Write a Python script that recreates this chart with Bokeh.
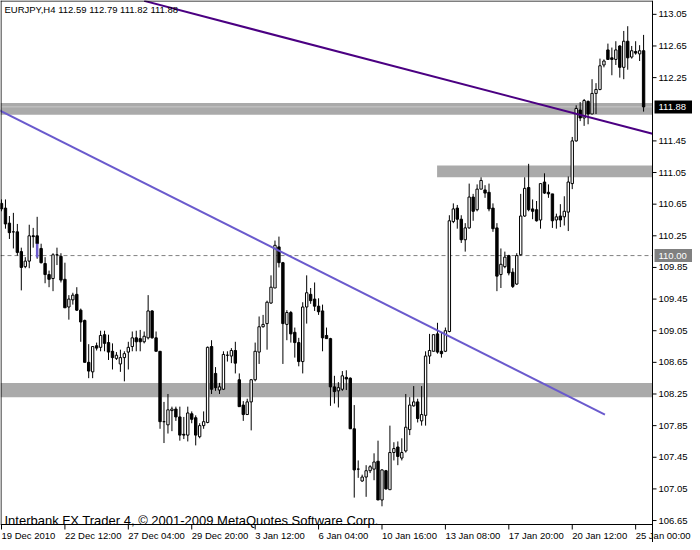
from bokeh.plotting import figure
from bokeh.models import Range1d, Label, ColumnDataSource
from bokeh.embed import file_html
from bokeh.resources import INLINE
from bokeh.core.properties import value

symbol = "EURJPY,H4"

opens = [110.66, 110.60, 110.41, 110.30, 110.30, 110.05, 109.86, 109.93, 110.25, 110.25,
         110.09, 109.90, 109.76, 109.71, 110.01, 109.99, 109.70, 109.35, 109.44, 109.51,
         109.31, 109.18, 108.65, 108.53, 108.86, 108.84, 109.00, 108.90, 108.79, 108.70,
         108.63, 108.71, 108.78, 108.85, 108.96, 108.95, 108.91, 108.96, 109.30, 108.96,
         108.79, 107.90, 107.86, 108.04, 108.06, 107.96, 107.74, 107.73, 108.00, 107.95,
         107.71, 107.85, 107.89, 108.85, 108.51, 108.30, 108.31, 108.74, 108.73, 108.80,
         108.43, 108.11, 107.99, 108.15, 108.43, 108.78, 109.10, 109.14, 109.40, 109.59,
         110.11, 109.91, 109.13, 109.28, 109.03, 108.90, 108.66, 109.35, 109.51, 109.45,
         109.36, 109.30, 108.99, 108.95, 108.34, 108.29, 108.31, 108.46, 108.45, 107.81,
         107.30, 107.15, 107.20, 107.28, 107.30, 107.40, 106.91, 107.28, 107.04, 107.51,
         107.58, 107.44, 107.53, 107.80, 108.10, 108.15, 107.91, 107.98, 108.73, 108.79,
         109.01, 108.79, 108.79, 109.04, 110.43, 110.60, 110.46, 110.20, 110.35, 110.74,
         110.58, 110.84, 110.83, 110.80, 110.60, 110.35, 109.76, 109.86, 110.00, 109.79,
         109.64, 110.01, 110.50, 110.86, 110.59, 110.58, 110.45, 110.93, 110.80, 110.78,
         110.45, 110.50, 110.49, 110.55, 110.91, 111.45, 111.84, 111.74, 111.95, 111.79,
         112.05, 112.10, 112.41, 112.60, 112.50, 112.48, 112.65, 112.38, 112.71, 112.51,
         112.58, 112.55, 112.59]

highs = [110.71, 110.71, 110.50, 110.54, 110.40, 110.10, 109.98, 110.39, 110.35, 110.49,
         110.15, 109.98, 109.81, 110.03, 110.10, 110.03, 109.91, 109.50, 109.53, 109.60,
         109.33, 109.19, 108.88, 108.85, 108.90, 109.05, 109.05, 109.00, 108.89, 108.78,
         108.81, 108.79, 108.91, 109.04, 109.05, 109.06, 109.04, 109.50, 109.31, 109.04,
         108.79, 108.15, 108.25, 108.09, 108.09, 108.09, 107.96, 108.09, 108.03, 107.98,
         107.88, 108.03, 108.85, 108.93, 108.59, 108.39, 108.79, 108.79, 108.83, 108.91,
         108.51, 108.16, 108.19, 108.44, 108.90, 109.23, 109.25, 109.43, 109.75, 110.19,
         110.24, 109.92, 109.31, 109.30, 109.09, 108.96, 109.41, 109.75, 109.59, 109.66,
         109.46, 109.38, 109.09, 108.96, 108.48, 108.40, 108.54, 108.55, 108.46, 108.11,
         107.41, 107.23, 107.35, 107.35, 107.50, 107.66, 107.30, 107.29, 107.85, 107.64,
         107.65, 107.69, 108.25, 108.21, 108.35, 108.19, 108.35, 108.79, 109.01, 109.00,
         109.15, 109.03, 109.09, 110.51, 110.66, 110.64, 110.51, 110.41, 110.91, 110.78,
         110.90, 110.99, 110.89, 110.91, 110.66, 110.41, 110.09, 110.05, 110.01, 109.84,
         110.03, 110.78, 110.99, 111.16, 110.71, 110.69, 110.91, 111.04, 110.90, 110.78,
         110.53, 110.65, 110.75, 111.00, 111.50, 111.90, 111.94, 111.98, 111.96, 112.23,
         112.18, 112.49, 112.48, 112.68, 112.63, 112.71, 112.66, 112.84, 112.90, 112.65,
         112.71, 112.66, 112.79]

lows = [110.56, 110.34, 110.21, 110.09, 110.00, 109.56, 109.84, 109.84, 110.10, 109.96,
        109.90, 109.65, 109.60, 109.55, 109.88, 109.66, 109.34, 109.19, 109.38, 109.30,
        108.91, 108.65, 108.45, 108.45, 108.80, 108.79, 108.79, 108.68, 108.56, 108.68,
        108.53, 108.41, 108.56, 108.79, 108.79, 108.79, 108.89, 108.94, 108.95, 108.79,
        107.81, 107.63, 107.75, 107.78, 107.91, 107.66, 107.68, 107.65, 107.88, 107.60,
        107.69, 107.81, 107.88, 108.25, 108.29, 108.25, 108.30, 108.66, 108.64, 108.51,
        108.09, 107.91, 107.99, 107.79, 108.41, 108.63, 109.09, 108.81, 109.39, 109.59,
        109.85, 108.63, 108.93, 108.90, 108.71, 108.60, 108.51, 109.14, 109.39, 109.30,
        109.25, 108.79, 108.95, 108.10, 108.13, 108.08, 108.29, 108.30, 107.81, 106.94,
        107.19, 107.14, 106.95, 107.25, 107.16, 106.91, 106.83, 107.04, 107.04, 107.41,
        107.35, 107.41, 107.51, 107.73, 108.09, 107.89, 107.85, 107.85, 108.63, 108.79,
        108.76, 108.71, 108.78, 109.03, 110.41, 110.34, 110.16, 110.05, 110.34, 110.44,
        110.56, 110.84, 110.73, 110.56, 110.30, 109.55, 109.59, 109.84, 109.75, 109.59,
        109.63, 110.00, 110.49, 110.56, 110.46, 110.43, 110.34, 110.78, 110.73, 110.35,
        110.34, 110.36, 110.38, 110.31, 110.84, 111.44, 111.70, 111.64, 111.66, 111.79,
        111.79, 112.09, 112.38, 112.48, 112.28, 112.41, 112.25, 112.23, 112.35, 112.49,
        112.54, 112.46, 111.82]

closes = [110.59, 110.40, 110.29, 110.30, 110.04, 109.85, 109.93, 110.25, 110.24, 110.15,
          109.91, 109.76, 109.70, 110.01, 110.01, 109.69, 109.34, 109.45, 109.50, 109.31,
          109.16, 108.65, 108.54, 108.85, 108.83, 108.99, 108.89, 108.78, 108.71, 108.74,
          108.71, 108.76, 108.84, 108.96, 108.91, 108.91, 108.98, 109.30, 108.96, 108.79,
          107.90, 107.90, 108.05, 108.06, 107.96, 107.73, 107.73, 108.01, 107.93, 107.73,
          107.85, 107.90, 108.84, 108.31, 108.33, 108.34, 108.75, 108.74, 108.80, 108.64,
          108.09, 107.99, 108.15, 108.43, 108.79, 109.10, 109.13, 109.41, 109.60, 110.13,
          109.91, 109.14, 109.28, 109.01, 108.90, 108.66, 109.35, 109.53, 109.43, 109.36,
          109.29, 108.96, 108.95, 108.34, 108.28, 108.33, 108.48, 108.44, 107.81, 107.29,
          107.30, 107.20, 107.28, 107.33, 107.39, 106.91, 107.29, 107.05, 107.51, 107.56,
          107.46, 107.51, 107.83, 108.11, 108.15, 107.94, 107.99, 108.73, 108.80, 109.00,
          108.78, 108.76, 109.05, 110.44, 110.59, 110.46, 110.20, 110.35, 110.74, 110.56,
          110.84, 110.95, 110.79, 110.59, 110.34, 109.74, 109.89, 109.98, 109.78, 109.61,
          110.00, 110.50, 110.85, 110.58, 110.56, 110.44, 110.91, 110.79, 110.78, 110.44,
          110.49, 110.45, 110.56, 110.93, 111.45, 111.86, 111.74, 111.96, 111.79, 112.05,
          112.10, 112.40, 112.46, 112.48, 112.48, 112.60, 112.38, 112.71, 112.50, 112.59,
          112.56, 112.59, 111.88]

time_tick_idx = [0, 16, 32, 48, 64, 80, 96, 112, 128, 144, 160]
time_tick_labels = ["19 Dec 2010", "22 Dec 12:00", "27 Dec 04:00", "29 Dec 20:00",
                    "3 Jan 12:00", "6 Jan 04:00", "10 Jan 16:00", "13 Jan 08:00",
                    "17 Jan 20:00", "20 Jan 12:00", "25 Jan 00:00"]
price_ticks = [113.05, 112.65, 112.25, 111.45, 111.05, 110.65, 110.25, 109.85,
               109.45, 109.05, 108.65, 108.25, 107.85, 107.45, 107.05, 106.65]

# support / resistance zones (bottom, top, start bar; None = whole chart)
zone_bottom = [111.78, 110.99, 108.21]
zone_top = [111.93, 111.14, 108.39]
zone_start = [None, 109.9, None]

# trend lines (two anchor points each: bar index, price)
purple_t = [36, 164.25]
purple_p = [113.22, 111.54]
blue_t = [-5, 152.25]
blue_p = [111.95, 107.99]

# small blue mark on bar 9
mark_t = [9]
mark_hi = [110.15]
mark_lo = [109.975]

ref_level = 110.00
copyright_text = "Interbank FX Trader 4, \u00a9 2001-2009 MetaQuotes Software Corp."

FONT = "Liberation Sans"
FS = "9.5px"

# ---- layout: one canvas, chart area + price strip on right + time strip below
W, H = 692, 542
FRAME_W, FRAME_H = 652, 524
X0, X1 = -0.25, 164.25          # bar range shown in chart area
Y_TOP, Y_BOT = 113.225, 106.60  # price range shown in chart area
xpp = (X1 - X0) / FRAME_W
ypp = (Y_TOP - Y_BOT) / FRAME_H
X_END = X1 + (W - FRAME_W) * xpp
Y_END = Y_BOT - (H - FRAME_H) * ypp

idx = list(range(len(opens)))
src = ColumnDataSource(dict(
    t=idx, o=opens, h=highs, l=lows, c=closes,
    top=[max(a, b) for a, b in zip(opens, closes)],
    bot=[min(a, b) for a, b in zip(opens, closes)],
    col=["white" if c >= o else "black" for o, c in zip(opens, closes)],
))

p = figure(width=W, height=H, output_backend="svg", toolbar_location=None,
           x_range=Range1d(X0, X_END), y_range=Range1d(Y_END, Y_TOP),
           x_axis_location=None, y_axis_location=None,
           min_border_left=0, min_border_top=0, min_border_right=0, min_border_bottom=0)
p.xgrid.visible = False
p.ygrid.visible = False
p.background_fill_color = "white"
p.border_fill_color = "white"
p.outline_line_color = None

# zones
zl = [X0 if s is None else s for s in zone_start]
p.quad(left=zl, right=[X1] * len(zl), top=zone_top, bottom=zone_bottom,
       fill_color="#AAAAAA", line_color=None)

# bid line and reference level
p.segment(x0=[X0], y0=[closes[-1]], x1=[X1], y1=[closes[-1]], line_color="#C8C8C8", line_width=1)
p.segment(x0=[X0], y0=[ref_level], x1=[X1], y1=[ref_level], line_color="#808080",
          line_width=1, line_dash="4 3")

# candles
p.segment(x0="t", y0="h", x1="t", y1="l", source=src, line_color="black", line_width=1)
p.vbar(x="t", width=0.6, top="top", bottom="bot", fill_color="col", line_color="black",
       line_width=1, source=src)
p.segment(x0=mark_t, y0=mark_hi, x1=mark_t, y1=mark_lo, line_color="#6A5ACD", line_width=2.5)

# trend lines
p.line(purple_t, purple_p, line_color="#4B0082", line_width=2)
p.line(blue_t, blue_p, line_color="#6A5ACD", line_width=2)

# chart border and price axis line
p.segment(x0=[X0, X0 + 0.5 * xpp, X0, X1],
          y0=[Y_TOP - 0.5 * ypp, Y_TOP, Y_BOT, Y_TOP],
          x1=[X1, X0 + 0.5 * xpp, X1, X1],
          y1=[Y_TOP - 0.5 * ypp, Y_BOT, Y_BOT, Y_END],
          line_color="black", line_width=1)

# price scale
n = len(price_ticks)
p.segment(x0=[X1] * n, y0=price_ticks, x1=[X1 + 4 * xpp] * n, y1=price_ticks,
          line_color="black", line_width=1)
p.text(x=[X1 + 6 * xpp] * n, y=price_ticks, text=[f"{v:.2f}" for v in price_ticks],
       text_font=value(FONT), text_font_size=FS, text_color="black",
       text_baseline="middle", text_align="left")

# time scale
m = len(time_tick_idx)
p.segment(x0=time_tick_idx, y0=[Y_BOT] * m, x1=time_tick_idx, y1=[Y_BOT - 5 * ypp] * m,
          line_color="black", line_width=1)
p.text(x=time_tick_idx, y=[Y_BOT - 5 * ypp] * m, text=time_tick_labels,
       text_font=value(FONT), text_font_size=FS, text_color="black",
       text_baseline="top", text_align="left")

# price boxes (bid and reference level)
box_levels = [closes[-1], ref_level]
box_colors = ["black", "#808080"]
p.quad(left=[X1 + 2 * xpp] * 2, right=[X_END] * 2,
       top=[v + 6.5 * ypp for v in box_levels], bottom=[v - 6.5 * ypp for v in box_levels],
       fill_color=box_colors, line_color=None)
p.text(x=[X1 + 6 * xpp] * 2, y=box_levels, text=[f"{v:.2f}" for v in box_levels],
       text_font=value(FONT), text_font_size=FS, text_color="white",
       text_baseline="middle", text_align="left")

# texts
title = f"{symbol}  {opens[-1]:.2f} {highs[-1]:.2f} {lows[-1]:.2f} {closes[-1]:.2f}"
p.add_layout(Label(x=0.75, y=113.18, text=title, text_font=FONT, text_font_size=FS,
                   text_color="black", text_baseline="top", text_align="left"))
p.add_layout(Label(x=0.75, y=106.65, text=copyright_text, text_font=FONT, text_font_size="13px",
                   text_color="black", text_baseline="alphabetic", text_align="left"))

open("out.html", "w").write(file_html(p, INLINE))
